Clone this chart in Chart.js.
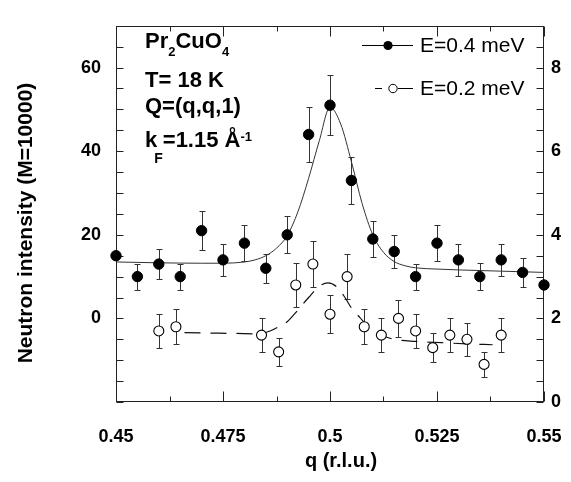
<!DOCTYPE html>
<html><head><meta charset="utf-8">
<script src="https://cdn.jsdelivr.net/npm/chart.js@4.4.1/dist/chart.umd.min.js"></script>
<style>
html,body{margin:0;padding:0;background:#fff;overflow:hidden;}
#wrap{position:relative;width:561px;height:482px;}
</style></head><body>
<div id="wrap"><canvas id="c" width="561" height="482"></canvas></div>
<script>
// ---- data ----
const qFilled = [0.45,0.455,0.46,0.465,0.47,0.475,0.48,0.485,0.49,0.495,0.5,0.505,0.51,0.515,0.52,0.525,0.53,0.535,0.54,0.545,0.55];
const iFilled = [15,10,13,10,21,14,18,12,20,44,51,33,19,16,10,18,14,10,14,11,8];
const eFilled = [null,3.1,3.6,3.1,4.6,3.8,4.3,3.5,4.4,6.6,7.2,5.7,4.3,4.0,3.1,4.3,3.8,3.2,3.8,3.4,null];

const qOpen = [0.46,0.464,0.484,0.488,0.492,0.496,0.5,0.504,0.508,0.512,0.516,0.52,0.524,0.528,0.532,0.536,0.54];
const iOpen = [-3,-2,-4,-8,8,13,1,10,-2,-4,0,-3,-7,-4,-5,-11,-4];
const eOpen = [4.1,4.2,4.0,3.4,5.3,5.6,4.6,5.3,4.2,4.0,4.5,4.1,3.5,4.0,3.9,3.0,4.0];

const qFitFilled = [0.45,0.46,0.47,0.475,0.48,0.4825,0.485,0.4875,0.49,0.4925,0.495,0.4975,0.5,0.5025,0.505,0.5075,0.51,0.5125,0.515,0.5175,0.52,0.525,0.53,0.54,0.55];
const iFitFilled = [13.5,13.3,13.2,13.2,13.5,14.0,15.0,16.8,19.8,25.5,33.5,42.5,50.5,46.5,37.5,27.5,20.0,15.8,13.6,12.6,12.1,11.8,11.6,11.3,11.0];

const qFitOpen = [0.466,0.472,0.478,0.483,0.486,0.488,0.49,0.4925,0.495,0.4975,0.4995,0.5015,0.5035,0.505,0.507,0.509,0.5115,0.515,0.52,0.526,0.532,0.538];
const iFitOpen = [-3.4,-3.5,-3.6,-3.7,-3.0,-2.0,-0.8,2.0,5.0,7.7,8.5,7.6,5.0,2.5,0.2,-2.0,-3.8,-5.0,-5.5,-5.8,-6.1,-6.3];

const xTickValues = [0.45,0.475,0.5,0.525,0.55];
const xTickLabels = ['0.45','0.475','0.5','0.525','0.55'];
const yTickValues = [0,20,40,60];
const yTickLabels = ['0','20','40','60'];
const y2TickValues = [0,20,40,60,80];
const y2TickLabels = ['0','20','40','60','80'];

const seriesLabels = ['E=0.4 meV','E=0.2 meV'];
const xTitle = 'q (r.l.u.)';
const yTitle = 'Neutron intensity (M=10000)';

// ---- styling ----
const FONT = '"Liberation Sans", Arial, Helvetica, sans-serif';
const INK = '#000';

const pts = (xs, ys) => xs.map((x, i) => ({x, y: ys[i]}));

const errorBars = {
  id: 'errorBars',
  beforeDatasetsDraw(chart) {
    const ctx = chart.ctx, xs = chart.scales.x, ys = chart.scales.y;
    ctx.save();
    ctx.strokeStyle = '#333';
    ctx.lineWidth = 1;
    const draw = (qa, ia, ea) => {
      qa.forEach((q, i) => {
        const e = ea[i];
        if (e == null) return;
        const px = Math.round(xs.getPixelForValue(q)) + 0.5;
        const top = Math.round(ys.getPixelForValue(ia[i] + e)) + 0.5;
        const bot = Math.round(ys.getPixelForValue(ia[i] - e)) + 0.5;
        ctx.beginPath();
        ctx.moveTo(px, top); ctx.lineTo(px, bot);
        ctx.moveTo(px - 3, top); ctx.lineTo(px + 3, top);
        ctx.moveTo(px - 3, bot); ctx.lineTo(px + 3, bot);
        ctx.stroke();
      });
    };
    draw(qFilled, iFilled, eFilled);
    draw(qOpen, iOpen, eOpen);
    ctx.restore();
  }
};

const frame = {
  id: 'frame',
  beforeDatasetsDraw(chart) {
    const ctx = chart.ctx, a = chart.chartArea;
    const xs = chart.scales.x, ys = chart.scales.y;
    ctx.save();
    ctx.strokeStyle = '#222';
    ctx.lineWidth = 1;
    const L = Math.round(a.left) + 0.5, R = Math.round(a.right) - 0.5;
    const T = Math.round(a.top) + 0.5, B = Math.round(a.bottom) - 0.5;
    ctx.strokeRect(L, T, R - L, B - T);
    ctx.beginPath();
    for (let v = -20; v <= 70; v += 5) {
      const py = Math.round(ys.getPixelForValue(v)) + 0.5;
      ctx.moveTo(L, py); ctx.lineTo(L + 7, py);
      ctx.moveTo(R, py); ctx.lineTo(R - 7, py);
    }
    for (let k = 0; k <= 8; k++) {
      const v = 0.45 + k * 0.0125;
      const len = (k % 2 === 0) ? 10 : 5;
      const px = Math.round(xs.getPixelForValue(v)) + 0.5;
      ctx.moveTo(px, B); ctx.lineTo(px, B - len);
      ctx.moveTo(px, T); ctx.lineTo(px, T + len);
    }
    ctx.stroke();
    ctx.restore();
  }
};

function drawRich(ctx, x, y, parts) {
  let cx = x;
  for (const p of parts) {
    ctx.font = `bold ${p.s}px ${FONT}`;
    ctx.fillText(p.t, cx + (p.dx || 0), y + (p.dy || 0));
    cx += ctx.measureText(p.t).width + (p.dx || 0);
  }
}

const annotations = {
  id: 'annotations',
  afterDraw(chart) {
    const ctx = chart.ctx;
    ctx.save();
    ctx.fillStyle = INK;
    ctx.textBaseline = 'alphabetic';
    ctx.textAlign = 'left';
    drawRich(ctx, 145, 48, [{t:'Pr',s:22},{t:'2',s:13,dy:8},{t:'CuO',s:22},{t:'4',s:13,dy:8}]);
    drawRich(ctx, 145, 87, [{t:'T= 18 K',s:22}]);
    drawRich(ctx, 145, 113, [{t:'Q=(q,q,1)',s:22}]);
    drawRich(ctx, 145, 147, [{t:'k',s:22},{t:'F',s:14,dy:16,dx:-3},{t:'=1.15 Å',s:22},{t:'-1',s:13,dy:-6}]);

    // legend
    const ds = chart.data.datasets;
    ctx.strokeStyle = INK; ctx.lineWidth = 1;
    ctx.beginPath(); ctx.moveTo(362, 45.5); ctx.lineTo(413, 45.5); ctx.stroke();
    ctx.beginPath(); ctx.arc(388, 45.5, 4.6, 0, Math.PI * 2); ctx.fill();
    ctx.beginPath(); ctx.moveTo(375, 88.5); ctx.lineTo(382, 88.5); ctx.moveTo(398, 88.5); ctx.lineTo(413, 88.5); ctx.stroke();
    ctx.beginPath(); ctx.arc(393, 88.5, 4.2, 0, Math.PI * 2); ctx.fillStyle = '#fff'; ctx.fill(); ctx.stroke();
    ctx.fillStyle = INK;
    ctx.font = `21px ${FONT}`;
    ctx.textBaseline = 'middle';
    ctx.fillText(ds[0].label, 420, 46);
    ctx.fillText(ds[1].label, 420, 89);

    // axis titles
    ctx.font = `bold 20px ${FONT}`;
    ctx.textAlign = 'center';
    ctx.fillText(xTitle, 341, 461);
    ctx.save();
    ctx.translate(26, 223);
    ctx.rotate(-Math.PI / 2);
    ctx.font = `bold 21px ${FONT}`;
    ctx.fillText(yTitle, 0, 0);
    ctx.restore();
    ctx.restore();
  }
};

const tickFont = {family: FONT, size: 18, weight: 'bold'};

new Chart(document.getElementById('c'), {
  type: 'scatter',
  data: {
    datasets: [
      {label: seriesLabels[0], data: pts(qFilled, iFilled), showLine: false,
       pointRadius: 5.2, pointBackgroundColor: INK, pointBorderColor: INK, pointBorderWidth: 1,
       clip: false, order: 1},
      {label: seriesLabels[1], data: pts(qOpen, iOpen), showLine: false,
       pointRadius: 5, pointBackgroundColor: '#fff', pointBorderColor: INK, pointBorderWidth: 1.1,
       clip: false, order: 0},
      {label: 'fit 0.4', data: pts(qFitFilled, iFitFilled), showLine: true, pointRadius: 0,
       borderColor: '#333', borderWidth: 1, cubicInterpolationMode: 'monotone', order: 3},
      {label: 'fit 0.2', data: pts(qFitOpen, iFitOpen), showLine: true, pointRadius: 0,
       borderColor: '#111', borderWidth: 1.2, borderDash: [16, 10], cubicInterpolationMode: 'monotone', order: 3}
    ]
  },
  options: {
    responsive: false,
    animation: false,
    devicePixelRatio: 1,
    layout: {padding: {top: 5, left: 0, right: 0, bottom: 0}},
    plugins: {legend: {display: false}, tooltip: {enabled: false}},
    scales: {
      x: {
        type: 'linear', min: 0.45, max: 0.55,
        grid: {display: false, drawTicks: false},
        border: {display: false},
        afterBuildTicks: s => { s.ticks = xTickValues.map(v => ({value: v})); },
        ticks: {font: tickFont, color: INK, padding: 24, maxRotation: 0,
                callback: (v, i) => xTickLabels[i]},
        afterFit: s => { s.height = 80; s.paddingLeft = 0; s.paddingRight = 0; }
      },
      y: {
        type: 'linear', position: 'left', min: -20, max: 70,
        grid: {display: false, drawTicks: false},
        border: {display: false},
        afterBuildTicks: s => { s.ticks = yTickValues.map(v => ({value: v})); },
        ticks: {font: tickFont, color: INK, padding: 15, callback: (v, i) => yTickLabels[i]},
        afterFit: s => { s.width = 116; }
      },
      y2: {
        type: 'linear', position: 'right', min: 0, max: 90,
        grid: {display: false, drawTicks: false},
        border: {display: false},
        afterBuildTicks: s => { s.ticks = y2TickValues.map(v => ({value: v})); },
        ticks: {font: tickFont, color: INK, padding: 7, callback: (v, i) => y2TickLabels[i]},
        afterFit: s => { s.width = 17; }
      }
    }
  },
  plugins: [frame, errorBars, annotations]
});
</script>
</body></html>
